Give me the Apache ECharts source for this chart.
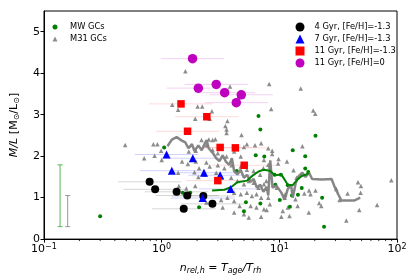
<!DOCTYPE html>
<html><head><meta charset="utf-8">
<script src="https://cdn.jsdelivr.net/npm/echarts@6/dist/echarts.min.js"></script>
<style>html,body{margin:0;padding:0;background:#fff}#c{width:415px;height:280px}</style>
</head><body><div id="c"></div>
<script>
// ---- data (x = n_rel,h , y = M/L) ----
const mwGCs = [[0.30,0.55],[1.05,2.21],[1.51,1.12],[1.75,1.12],[2.08,0.77],[4.35,1.64],[5.0,0.67],[5.2,0.89],[6.3,2.02],[6.9,0.86],
  [6.65,2.97],[6.9,2.64],[7.45,1.99],[9.1,1.55],[10.3,1.55],[9.25,1.31],[13.0,2.14],[14.4,1.07],[12.8,1.05],[15.5,1.23],
  [16.6,2.00],[16.6,1.70],[17.6,1.62],[10.1,0.94],[12.3,0.78],[23.1,1.00],[24.0,0.30],[20.3,2.49],[11.8,1.30]];
const m31GCs = [[0.49,2.27],[1.59,4.05],[3.81,3.68],[4.44,3.40],[8.2,3.74],[15.2,3.63],[1.23,3.24],[2.02,3.20],[2.21,3.20],[1.38,3.12],
  [2.67,3.08],[8.53,3.14],[19.4,3.10],[20.2,3.02],[1.93,2.90],[3.62,2.85],[2.56,2.90],[3.48,2.73],[3.56,2.64],[3.56,2.56],
  [4.77,2.51],[0.85,2.29],[0.92,2.29],[2.52,2.40],[2.86,2.41],[2.40,2.26],[5.00,2.22],[6.21,2.26],[7.0,2.31],[15.7,2.24],
  [8.7,2.13],[8.7,2.05],[9.85,1.93],[11.6,1.87],[9.75,1.82],[8.3,1.75],[13.2,1.66],[14.0,1.48],[46.6,1.37],[49.4,1.28],
  [89.5,1.42],[20.3,1.17],[17.9,1.17],[18.4,1.08],[16.3,1.10],[30.5,1.21],[38.0,1.10],[32.5,0.94],[49.1,1.12],[21.8,0.87],
  [22.7,0.80],[8.05,1.00],[8.3,0.84],[7.8,0.70],[10.7,0.68],[10.4,0.54],[12.2,0.56],[17.8,0.64],[47.8,0.70],[67.8,0.82],
  [37.1,0.45],[11.2,1.08],[9.5,1.24],[7.75,1.40],[11.1,1.00],[13.7,0.96],[14.3,0.80],[11.8,0.76],[0.99,2.13],[1.70,2.11],
  [1.95,2.13],[2.18,2.39],[2.71,2.39],[2.71,2.15],[3.0,2.07],[3.56,1.99],[4.13,2.11],[4.7,1.99],[5.3,2.29],[7.4,1.91],
  [8.05,2.19],[1.49,1.87],[1.67,1.81],[1.95,1.87],[2.40,1.85],[2.56,1.75],[3.0,1.78],[3.41,1.71],[3.92,1.78],[4.7,1.75],
  [5.3,1.67],[6.05,1.64],[6.87,1.55],[7.32,1.71],[8.05,1.79],[0.71,1.95],[2.33,1.55],[2.91,1.60],[3.25,1.48],[3.9,1.48],
  [4.4,1.40],[5.0,1.32],[5.5,1.40],[6.05,1.36],[6.65,1.24],[7.4,1.32],[4.13,1.12],[4.7,1.08],[5.3,1.12],[5.85,1.04],
  [6.4,1.08],[7.0,1.00],[2.40,0.88],[3.2,0.94],[3.62,1.00],[4.13,0.92],[3.3,0.76],[4.6,0.80],[5.7,0.80],[6.4,0.76],
  [7.4,0.72],[4.13,0.64],[5.0,0.60],[5.5,0.52],[7.0,0.54],[0.87,2.01],[1.0,1.91],[1.38,1.60],[1.90,1.61],[2.08,1.71],
  [2.05,1.50],[1.40,1.28],[1.62,1.22],[1.93,1.28]];
const m31Trend = [[1.12,2.24],[1.22,2.40],[1.34,2.46],[1.47,2.38],[1.59,2.33],[1.69,2.19],[1.81,2.29],[1.90,2.12],[2.05,2.26],[2.19,2.14],
  [2.33,2.31],[2.41,2.39],[2.51,2.19],[2.73,2.07],[2.91,1.95],[3.10,1.88],[3.30,2.02],[3.53,1.86],[3.75,1.79],[3.95,1.95],
  [4.13,1.64],[4.40,1.56],[4.69,1.67],[5.00,1.48],[5.32,1.55],[5.68,1.38],[6.05,1.45],[6.44,1.24],[6.88,1.31],[7.32,1.14],
  [7.80,1.26],[8.05,1.05],[8.37,1.90],[8.75,1.24],[9.44,1.29],[10.4,1.12],[11.1,0.95],[11.8,1.21],[12.6,1.29],[13.0,1.00],
  [13.8,1.36],[14.6,1.52],[15.7,1.60],[16.7,1.50],[17.9,1.60],[19.0,1.45],[23.0,1.44],[27.8,1.45],[29.5,1.26],[31.8,1.07],
  [33.7,0.93],[38.5,0.93],[43.2,0.93],[48.7,1.00]];
const mwTrend = [[2.68,1.17],[3.41,1.19],[3.88,1.25],[4.40,1.37],[5.32,1.41],[6.05,1.55],[6.65,1.63],[7.32,1.67],[8.32,1.65],[9.16,1.54],
  [10.4,1.56],[11.8,1.31],[13.0,1.30],[14.3,1.44],[15.5,1.52],[16.7,1.55],[17.9,1.60]];

const age4X = [0.79,0.88,1.34,1.65,2.26,1.54,2.70];
const age4Y = [1.38,1.20,1.14,1.05,1.04,0.73,0.85];
const age7X = [1.10,1.84,1.22,2.29,3.14,3.85,2.23];
const age7Y = [2.04,1.95,1.65,1.60,1.54,1.21,0.99];
const age11X = [1.46,2.42,1.66,3.14,4.23,5.03,3.00];
const age11Y = [3.26,2.95,2.60,2.21,2.20,1.78,1.41];
const age11sX = [1.83,2.91,2.05,3.43,4.75,4.31];
const age11sY = [4.35,3.73,3.64,3.53,3.48,3.29];
// horizontal error half-widths (dex)
const age4Err = [0.27,0.27,0.27,0.27,0.27,0.27,0.27];
const age7Err = [0.27,0.27,0.27,0.27,0.27,0.27,0.27];
const age11Err = [0.27,0.27,0.27,0.27,0.27,0.27,0.27];
const age11sErr = [0.27,0.27,0.27,0.26,0.27,0.27];

// typical error bars at left
const typErrX = [0.137, 0.159];
const typErrLo = [0.30, 0.30];
const typErrHi = [1.79, 1.05];

const xTicks = [0.1, 1, 10, 100];
const xMinorTicks = [0.2,0.3,0.4,0.5,0.6,0.7,0.8,0.9,2,3,4,5,6,7,8,9,20,30,40,50,60,70,80,90];
const yTicks = [0, 1, 2, 3, 4, 5];

const FONT = 'DejaVu Sans';
const zip = (xs, ys) => xs.map((x, i) => [x, ys[i]]);
const errData = (xs, ys, es) => xs.map((x, i) => [x, ys[i], x / Math.pow(10, es[i]), x * Math.pow(10, es[i])]);

function hErrSeries(name, data, color) {
  return {
    type: 'custom', name: name, z: 1, silent: true,
    encode: {x: [0, 2, 3], y: 1},
    data: data,
    renderItem: function (params, api) {
      const y = api.value(1);
      const a = api.coord([api.value(2), y]);
      const b = api.coord([api.value(3), y]);
      return {type: 'line', shape: {x1: a[0], y1: a[1], x2: b[0], y2: b[1]},
        style: {stroke: color, lineWidth: 1}};
    }
  };
}

const typColors = ['rgba(60,170,60,0.85)', 'rgba(140,140,140,0.9)'];
const legText = {fontFamily: FONT, fontSize: 8.3, color: '#000', lineHeight: 12};

const chart = echarts.init(document.getElementById('c'), null, {renderer: 'canvas'});
chart.setOption({
  animation: false,
  backgroundColor: '#fff',
  textStyle: {fontFamily: FONT},
  grid: {left: 35, right: 18, top: 11, bottom: 38, show: true, borderColor: '#000', borderWidth: 1, backgroundColor: 'transparent'},
  xAxis: {
    type: 'log', logBase: 10, min: 0.1, max: 100,
    axisLine: {show: true, lineStyle: {color: '#000', width: 1}},
    axisTick: {show: true, length: 3.5, lineStyle: {color: '#000'}, customValues: xTicks},
    splitLine: {show: false},
    axisLabel: {
      customValues: xTicks, margin: 4, color: '#000',
      formatter: function (v) { const e = Math.round(Math.log10(v)); return '{b|10}{s|' + (e < 0 ? '\u2212' + (-e) : e) + '}'; },
      rich: {
        b: {fontFamily: FONT, fontSize: 11, color: '#000', verticalAlign: 'bottom', lineHeight: 12},
        s: {fontFamily: FONT, fontSize: 8, color: '#000', verticalAlign: 'top', lineHeight: 8, padding: [0, 0, 6, 0]}
      }
    },
    name: '{i|n}{sub|rel,h}{r| = }{i|T}{sub|age}{i|/T}{sub|rh}',
    nameLocation: 'middle', nameGap: 19,
    nameTextStyle: {
      rich: {
        i: {fontFamily: FONT, fontStyle: 'italic', fontSize: 11, color: '#000', verticalAlign: 'top', lineHeight: 12},
        r: {fontFamily: FONT, fontSize: 11, color: '#000', verticalAlign: 'top', lineHeight: 12},
        sub: {fontFamily: FONT, fontStyle: 'italic', fontSize: 8, color: '#000', verticalAlign: 'bottom', lineHeight: 8, padding: [5, 0, 0, 0]}
      }
    }
  },
  yAxis: {
    type: 'value', min: 0, max: 5.5,
    axisLine: {show: true, lineStyle: {color: '#000', width: 1}},
    axisTick: {show: true, length: 3.5, lineStyle: {color: '#000'}, customValues: yTicks},
    splitLine: {show: false},
    axisLabel: {customValues: yTicks, fontFamily: FONT, fontSize: 11, color: '#000', margin: 4},
    name: '{i|M/L} {r|[M}{sub|\u2299}{r|/L}{sub|\u2299}{r|]}',
    nameLocation: 'middle', nameGap: 23, nameRotate: 90,
    nameTextStyle: {
      rich: {
        i: {fontFamily: FONT, fontStyle: 'italic', fontSize: 11, color: '#000', verticalAlign: 'top', lineHeight: 12},
        r: {fontFamily: FONT, fontSize: 11, color: '#000', verticalAlign: 'top', lineHeight: 12},
        sub: {fontFamily: FONT, fontSize: 8, color: '#000', verticalAlign: 'bottom', lineHeight: 8, padding: [5, 0, 0, 0]}
      }
    }
  },
  legend: [
    {data: [{name: 'MW GCs', icon: 'circle'}, {name: 'M31 GCs', icon: 'triangle'}],
     orient: 'vertical', left: 47.5, top: 16, itemWidth: 5, itemHeight: 5, itemGap: 0,
     textStyle: Object.assign({padding: [0, 0, 0, 7.5]}, legText)},
    {data: ['4 Gyr, [Fe/H]=-1.3', '7 Gyr, [Fe/H]=-1.3', '11 Gyr, [Fe/H]=-1.3', '11 Gyr, [Fe/H]=0'],
     orient: 'vertical', left: 290.5, top: 16, itemWidth: 9, itemHeight: 9, itemGap: 0,
     textStyle: Object.assign({padding: [0, 0, 0, 5]}, legText)}
  ],
  series: [
    hErrSeries('e4', errData(age4X, age4Y, age4Err), 'rgba(0,0,0,0.16)'),
    hErrSeries('e7', errData(age7X, age7Y, age7Err), 'rgba(0,0,255,0.18)'),
    hErrSeries('e11', errData(age11X, age11Y, age11Err), 'rgba(255,0,0,0.15)'),
    hErrSeries('e11s', errData(age11sX, age11sY, age11sErr), 'rgba(191,0,191,0.18)'),
    {
      type: 'custom', name: 'typ', silent: true, z: 2,
      encode: {x: 0, y: [1, 2]},
      data: typErrX.map((x, i) => [x, typErrLo[i], typErrHi[i], i]),
      renderItem: function (params, api) {
        const x = api.value(0);
        const a = api.coord([x, api.value(1)]);
        const b = api.coord([x, api.value(2)]);
        const col = typColors[api.value(3)];
        const st = {stroke: col, lineWidth: 1};
        return {type: 'group', children: [
          {type: 'line', shape: {x1: a[0], y1: a[1], x2: b[0], y2: b[1]}, style: st},
          {type: 'line', shape: {x1: a[0] - 2.5, y1: a[1], x2: a[0] + 2.5, y2: a[1]}, style: st},
          {type: 'line', shape: {x1: b[0] - 2.5, y1: b[1], x2: b[0] + 2.5, y2: b[1]}, style: st}
        ]};
      }
    },
    {
      type: 'custom', name: 'minor', silent: true, clip: false, z: 3,
      encode: {x: 0, y: 1},
      data: xMinorTicks.map(v => [v, 0]),
      renderItem: function (params, api) {
        const p = api.coord([api.value(0), 0]);
        return {type: 'line', shape: {x1: p[0], y1: p[1], x2: p[0], y2: p[1] + 2}, style: {stroke: '#000', lineWidth: 0.8}};
      }
    },
    {type: 'scatter', name: 'M31 GCs', data: m31GCs, symbol: 'triangle', symbolSize: 4.5,
     itemStyle: {color: '#808080', opacity: 0.9}, z: 3},
    {type: 'scatter', name: 'MW GCs', data: mwGCs, symbol: 'circle', symbolSize: 4,
     itemStyle: {color: '#008000', opacity: 1}, z: 4},
    {type: 'line', name: 'm31trend', data: m31Trend, showSymbol: false, symbol: 'none',
     lineStyle: {color: 'rgba(128,128,128,0.95)', width: 2.5}, z: 5},
    {type: 'line', name: 'mwtrend', data: mwTrend, showSymbol: false, symbol: 'none',
     lineStyle: {color: '#008000', width: 2}, z: 6},
    {type: 'scatter', name: '4 Gyr, [Fe/H]=-1.3', data: zip(age4X, age4Y), symbol: 'circle', symbolSize: 8,
     itemStyle: {color: '#000', opacity: 1}, z: 7},
    {type: 'scatter', name: '7 Gyr, [Fe/H]=-1.3', data: zip(age7X, age7Y), symbol: 'triangle', symbolSize: 8,
     itemStyle: {color: '#0000ff', opacity: 1}, z: 7},
    {type: 'scatter', name: '11 Gyr, [Fe/H]=-1.3', data: zip(age11X, age11Y), symbol: 'rect', symbolSize: 7.5,
     itemStyle: {color: '#ff0000', opacity: 1}, z: 7},
    {type: 'scatter', name: '11 Gyr, [Fe/H]=0', data: zip(age11sX, age11sY), symbol: 'circle', symbolSize: 9.5,
     itemStyle: {color: '#bf00bf', opacity: 1}, z: 7}
  ]
});
</script></body></html>
